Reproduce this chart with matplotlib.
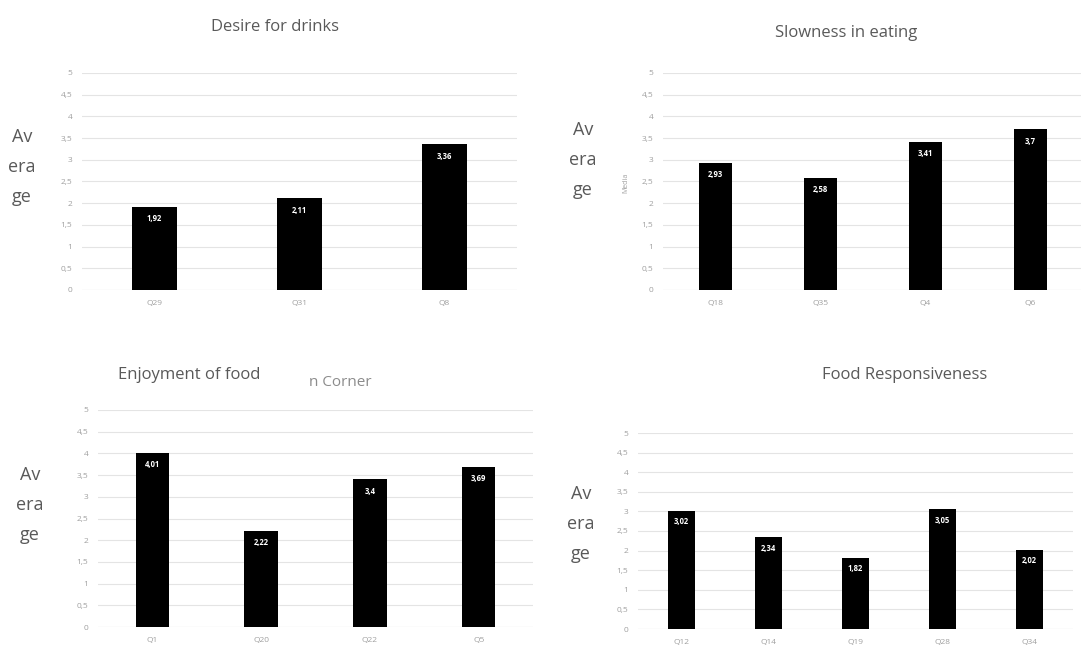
import matplotlib
matplotlib.use("Agg")
import matplotlib.pyplot as plt

plt.rcParams['font.family'] = ['Open Sans', 'DejaVu Sans']

# data
drinks_q = ['Q29', 'Q31', 'Q8']
drinks_v = [1.92, 2.11, 3.36]
slow_q = ['Q18', 'Q35', 'Q4', 'Q6']
slow_v = [2.93, 2.58, 3.41, 3.7]
enjoy_q = ['Q1', 'Q20', 'Q22', 'Q5']
enjoy_v = [4.01, 2.22, 3.4, 3.69]
resp_q = ['Q12', 'Q14', 'Q19', 'Q28', 'Q34']
resp_v = [3.02, 2.34, 1.82, 3.05, 2.02]
yticks = [0, 0.5, 1, 1.5, 2, 2.5, 3, 3.5, 4, 4.5, 5]
ytick_labels = ['0', '0,5', '1', '1,5', '2', '2,5', '3', '3,5', '4', '4,5', '5']

W, H = 1081, 650
fig = plt.figure(figsize=(W / 100, H / 100), dpi=100)


def px_axes(left, right, bottom, top):
    return fig.add_axes([left / W, 1 - bottom / H, (right - left) / W, (bottom - top) / H])


def panel(ax, cats, vals):
    x = range(len(cats))
    ax.bar(x, vals, width=0.31, color='black', zorder=3)
    for i, v in zip(x, vals):
        ax.text(i, v - 0.17, ('%g' % v).replace('.', ','), ha='center', va='top',
                color='white', fontsize=5.5, fontweight='bold', zorder=4)
    ax.set_xlim(-0.5, len(cats) - 0.5)
    ax.set_ylim(0, 5)
    ax.set_xticks(list(x))
    ax.set_xticklabels(cats)
    ax.set_yticks(yticks)
    ax.set_yticklabels(ytick_labels)
    ax.tick_params(length=0, labelsize=6, labelcolor='#a0a0a0', pad=7)
    ax.grid(axis='y', color='#e4e4e4', linewidth=0.8, zorder=0)
    for s in ax.spines.values():
        s.set_visible(False)
    ax.axhline(0, color='#d9d9d9', linewidth=0.8, zorder=2)


ax1 = px_axes(82, 517, 290, 73)
panel(ax1, drinks_q, drinks_v)
ax2 = px_axes(663, 1083, 290, 73)
panel(ax2, slow_q, slow_v)
ax3 = px_axes(98, 533, 627, 410)
panel(ax3, enjoy_q, enjoy_v)
ax4 = px_axes(638, 1073, 629, 433)
panel(ax4, resp_q, resp_v)

gray = '#595959'


def ftext(x, y, s, **kw):
    fig.text(x / W, 1 - y / H, s, ha='center', va='center', **kw)


ftext(275, 27, 'Desire for drinks', fontsize=12, color=gray)
ftext(846, 33, 'Slowness in eating', fontsize=12, color=gray)
ftext(189, 375, 'Enjoyment of food', fontsize=12, color=gray)
ftext(340, 383, 'n Corner', fontsize=11, color='#8c8c8c')
ftext(905, 375, 'Food Responsiveness', fontsize=12, color=gray)

for (x, y0) in [(22, 137), (583, 130), (30, 475), (581, 494)]:
    for k, part in enumerate(['Av', 'era', 'ge']):
        ftext(x, y0 + 30 * k, part, fontsize=13, color=gray)

ftext(626, 183, 'Media', fontsize=5, color='#a0a0a0', rotation=90)

fig.savefig('out.png', dpi=100)
